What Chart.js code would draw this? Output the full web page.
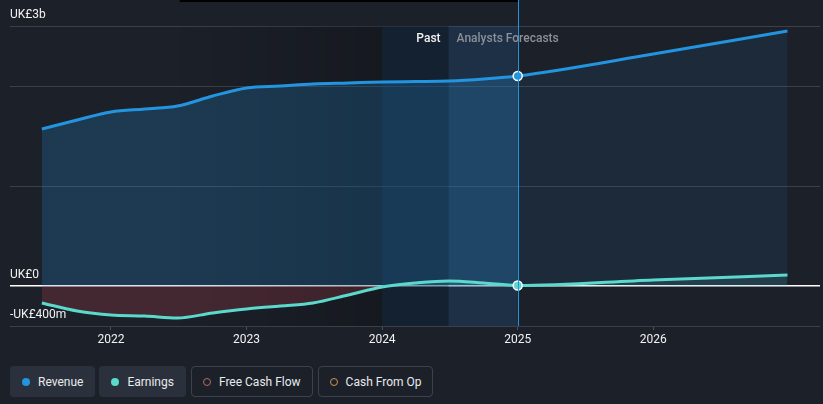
<!DOCTYPE html>
<html>
<head>
<meta charset="utf-8">
<script src="https://cdn.jsdelivr.net/npm/chart.js@4.4.1/dist/chart.umd.min.js"></script>
<style>
  html, body { margin: 0; padding: 0; background: #1c2029; width: 823px; height: 404px; overflow: hidden; font-family: Roboto, "Open Sans", sans-serif; }
  #wrap { position: absolute; left: 0; top: 0; width: 823px; height: 360px; }
  #legend { position: absolute; left: 10px; top: 366px; display: flex; gap: 4px; }
  .btn { height: 31px; box-sizing: border-box; border-radius: 4px; display: flex; align-items: center; padding: 0 12px; font-size: 12px; color: #e8eaed; }
  .btn.on { background: #2b313c; }
  .btn.off { border: 1px solid #3c424d; padding: 0 11px 0 11px; margin-left: 1px; }
  .dot { width: 8px; height: 8px; border-radius: 50%; margin-right: 8px; box-sizing: border-box; }
</style>
</head>
<body>
<div id="wrap"><canvas id="revChart"></canvas></div>
<div id="legend">
  <div class="btn on"><span class="dot" style="background:#2394df"></span>Revenue</div>
  <div class="btn on"><span class="dot" style="background:#5ad9cc"></span>Earnings</div>
  <div class="btn off"><span class="dot" style="border:1.5px solid #b96a6a"></span>Free Cash Flow</div>
  <div class="btn off"><span class="dot" style="border:1.5px solid #d4924f"></span>Cash From Op</div>
</div>
<script>
// periods as decimal years, values in UK£ billions
const periods  = [2021.49, 2021.75, 2022.0, 2022.25, 2022.49, 2022.75, 2023.0, 2023.25, 2023.49, 2023.75, 2024.0, 2024.25, 2024.49, 2024.75, 2025.0, 2026.0, 2026.99];
const revenue  = [1.57, 1.66, 1.74, 1.77, 1.80, 1.90, 1.98, 2.00, 2.02, 2.03, 2.04, 2.045, 2.05, 2.07, 2.10, 2.32, 2.55];
const earnings = [-0.17, -0.25, -0.29, -0.30, -0.32, -0.27, -0.23, -0.20, -0.17, -0.09, -0.01, 0.03, 0.05, 0.03, 0.005, 0.06, 0.11];
const yearTicks = [2022, 2023, 2024, 2025, 2026];
const yGrid = [-0.4, 0, 1, 2, 2.6];
const yLabels = [[2.6, 'UK£3b'], [0, 'UK£0'], [-0.4, '-UK£400m']];
const nowYear = 2025.0;
const pastStart = 2024.0;
const forecastStart = 2024.49;

const nowIdx = periods.indexOf(nowYear);

function splitFill(context, pastCol, futCol)
{
  const chart = context.chart;
  const area = chart.chartArea;
  if (!area) return pastCol;
  const xNow = chart.scales.x.getPixelForValue(nowYear);
  const f = Math.min(Math.max((xNow - area.left) / (area.right - area.left), 0), 1);
  const g = chart.ctx.createLinearGradient(area.left, 0, area.right, 0);
  g.addColorStop(0, pastCol);
  g.addColorStop(f, pastCol);
  g.addColorStop(f, futCol);
  g.addColorStop(1, futCol);
  return g;
}

const bands =
{
  id: 'bands',
  beforeDatasetsDraw(chart)
  {
    const { ctx, chartArea: a, scales: { x } } = chart;
    const x0 = x.getPixelForValue(2022.5);
    const x1 = x.getPixelForValue(pastStart);
    const x2 = x.getPixelForValue(forecastStart);
    const x3 = x.getPixelForValue(nowYear);
    ctx.save();
    // darkening towards the past band
    const g = ctx.createLinearGradient(x0, 0, x1, 0);
    g.addColorStop(0, 'rgba(0,0,0,0)');
    g.addColorStop(1, 'rgba(0,0,0,0.22)');
    ctx.fillStyle = g;
    ctx.fillRect(x0, a.top, x1 - x0, a.bottom - a.top);
    ctx.fillStyle = 'rgba(10,35,60,0.45)';
    ctx.fillRect(x1, a.top, x2 - x1, a.bottom - a.top);
    ctx.fillStyle = 'rgba(35,85,135,0.30)';
    ctx.fillRect(x2, a.top, x3 - x2, a.bottom - a.top);
    ctx.fillStyle = '#000000';
    ctx.fillRect(x0 + 1, 0, x3 - x0, 2);
    ctx.restore();
  },
  afterDatasetsDraw(chart)
  {
    const { ctx, chartArea: a, scales: { x, y } } = chart;
    const xNow = x.getPixelForValue(nowYear);
    const x2 = x.getPixelForValue(forecastStart);
    ctx.save();
    ctx.strokeStyle = '#2394df';
    ctx.lineWidth = 1;
    ctx.beginPath();
    ctx.moveTo(Math.round(xNow) + 0.5, 0);
    ctx.lineTo(Math.round(xNow) + 0.5, a.bottom);
    ctx.stroke();
    ctx.font = '500 12px Roboto';
    ctx.textBaseline = 'middle';
    ctx.textAlign = 'right';
    ctx.fillStyle = '#f2f2f2';
    ctx.fillText('Past', x2 - 8, a.top + 13);
    ctx.textAlign = 'left';
    ctx.fillStyle = '#8b9099';
    ctx.fillText('Analysts Forecasts', x2 + 8, a.top + 13);
    ctx.font = '12px Roboto';
    ctx.fillStyle = '#f2f2f2';
    yLabels.forEach(([v, t]) => ctx.fillText(t, 10, y.getPixelForValue(v) - 11));
    ctx.restore();
  }
};

const revChart = new Chart(document.getElementById('revChart'),
{
  type: 'line',
  data:
  {
    datasets:
    [
      {
        label: 'Revenue',
        data: periods.map((p, i) => ({ x: p, y: revenue[i] })),
        borderColor: '#2394df',
        borderWidth: 3,
        backgroundColor: (c) => splitFill(c, 'rgba(35,148,223,0.22)', 'rgba(35,148,223,0.09)'),
        fill: 'origin',
        cubicInterpolationMode: 'monotone',
        pointRadius: (c) => c.dataIndex === nowIdx ? 4.5 : 0,
        pointBackgroundColor: '#2394df',
        pointBorderColor: '#ffffff',
        pointBorderWidth: 1.5,
        order: 2
      },
      {
        label: 'Earnings',
        data: periods.map((p, i) => ({ x: p, y: earnings[i] })),
        borderColor: '#5ad9cc',
        borderWidth: 3,
        backgroundColor: '#5ad9cc',
        fill: { target: 'origin', above: 'rgba(90,217,204,0.12)', below: 'rgba(210,70,80,0.22)' },
        cubicInterpolationMode: 'monotone',
        pointRadius: (c) => c.dataIndex === nowIdx ? 4.5 : 0,
        pointBackgroundColor: '#5ad9cc',
        pointBorderColor: '#ffffff',
        pointBorderWidth: 1.5,
        order: 1
      }
    ]
  },
  options:
  {
    responsive: true,
    maintainAspectRatio: false,
    animation: false,
    layout: { padding: { left: 10, right: 3, top: 26, bottom: 0 } },
    plugins: { legend: { display: false }, tooltip: { enabled: false } },
    scales:
    {
      x:
      {
        type: 'linear',
        min: 2021.255,
        max: 2027.23,
        afterBuildTicks: (s) => { s.ticks = yearTicks.map(v => ({ value: v })); },
        afterFit: (s) => { s.height = 34; },
        border: { display: false },
        grid: { drawOnChartArea: false, drawTicks: true, tickLength: 4, color: '#4a505c' },
        ticks: { color: '#f2f2f2', font: { family: 'Roboto', size: 12 }, padding: 3, maxRotation: 0, callback: (v) => String(v) }
      },
      y:
      {
        min: -0.4,
        max: 2.6,
        afterBuildTicks: (s) => { s.ticks = yGrid.map(v => ({ value: v })); },
        afterFit: (s) => { s.width = 0; },
        border: { display: false },
        grid: { drawTicks: false, color: (c) => c.tick.value === 0 ? '#ffffff' : '#3a3f4a', lineWidth: (c) => c.tick.value === 0 ? 1.5 : 1 },
        ticks: { display: false }
      }
    }
  },
  plugins: [bands]
});
</script>
</body>
</html>
